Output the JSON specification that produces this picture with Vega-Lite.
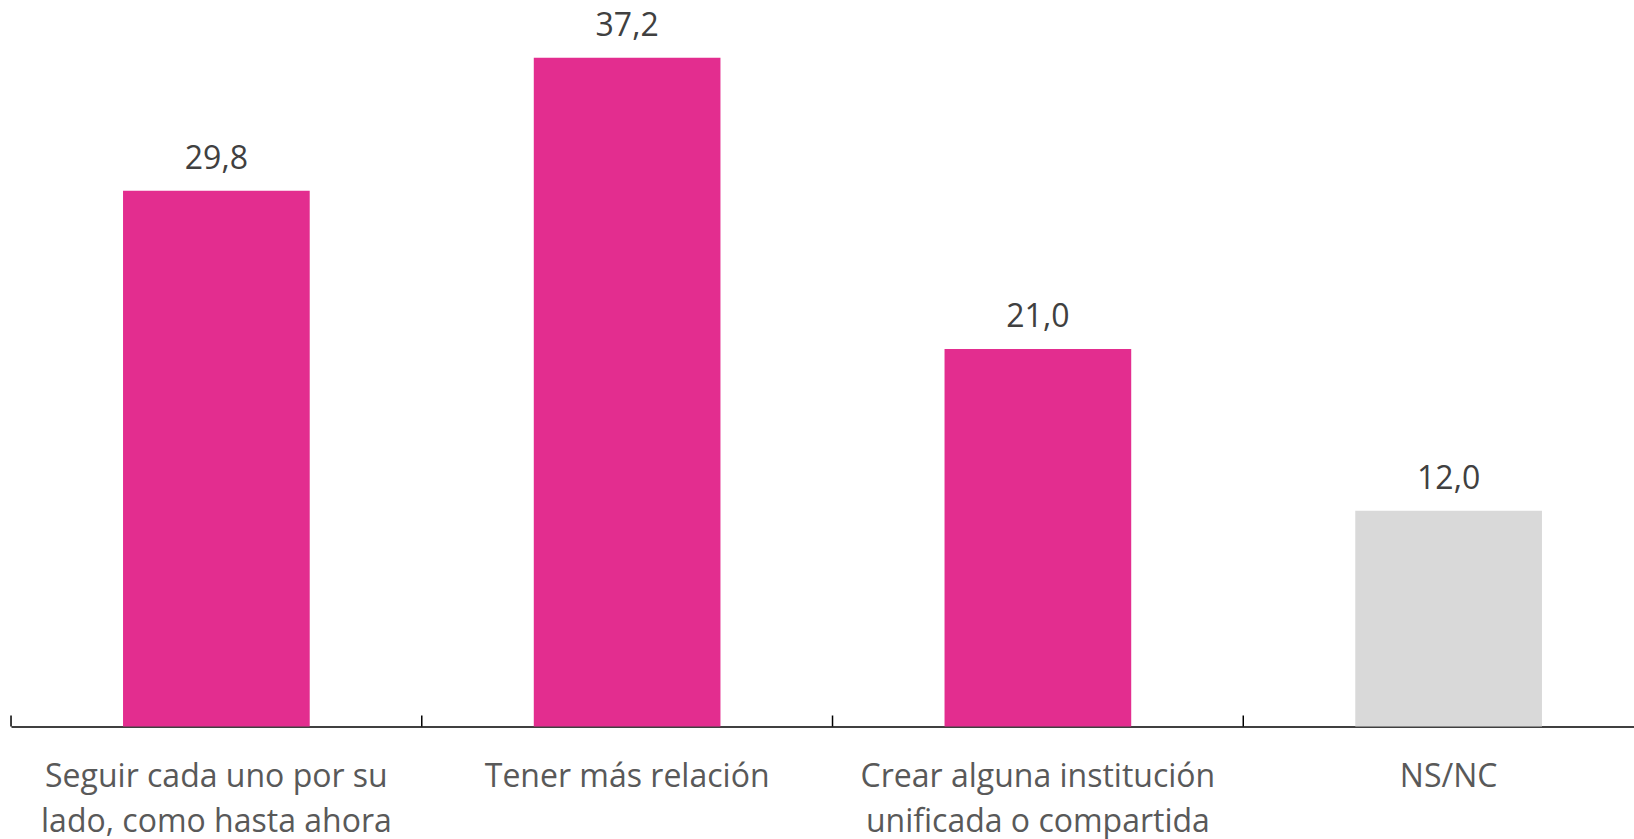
{
  "$schema": "https://vega.github.io/schema/vega-lite/v6.json",
  "autosize": {"type": "none"},
  "width": 1623,
  "height": 719,
  "padding": {"left": 11, "top": 7.5, "right": 0, "bottom": 112.5},
  "background": "white",
  "config": {
    "view": {"stroke": null},
    "locale": {"number": {"decimal": ",", "thousands": ".", "grouping": [3], "currency": ["", " €"]}}
  },
  "data": {
    "values": [
      {"cat": "Seguir cada uno por su|lado, como hasta ahora", "value": 29.8},
      {"cat": "Tener más relación", "value": 37.2},
      {"cat": "Crear alguna institución|unificada o compartida", "value": 21.0},
      {"cat": "NS/NC", "value": 12.0}
    ]
  },
  "encoding": {
    "x": {
      "field": "cat",
      "type": "nominal",
      "sort": null,
      "scale": {"range": [0, 1643], "paddingInner": 0.5455, "paddingOuter": 0.27275},
      "axis": {
        "title": null,
        "labelAngle": 0,
        "labelExpr": "split(datum.label, '|')",
        "labelFont": "Open Sans",
        "labelFontSize": 32,
        "labelColor": "#595959",
        "labelLineHeight": 44.7,
        "labelPadding": 35,
        "labelBaseline": "top",
        "domainColor": "#000000",
        "domainWidth": 1.5,
        "ticks": false,
        "labelLimit": 0
      }
    },
    "y": {
      "field": "value",
      "type": "quantitative",
      "scale": {"domain": [0, 40], "nice": false},
      "axis": null
    }
  },
  "layer": [
    {
      "mark": {"type": "bar"},
      "encoding": {
        "color": {
          "condition": {"test": "datum.cat === 'NS/NC'", "value": "#D9D9D9"},
          "value": "#E32D8F"
        }
      }
    },
    {
      "mark": {"type": "text", "font": "Open Sans", "fontSize": 32, "color": "#404040", "baseline": "alphabetic", "dy": -21.7},
      "encoding": {
        "text": {"field": "value", "type": "quantitative", "format": ".1f"}
      }
    },
    {
      "mark": {"type": "rule", "color": "#000000", "strokeWidth": 1.5},
      "encoding": {
        "x": {"field": "cat", "type": "nominal", "sort": null, "bandPosition": -0.6},
        "y": {"datum": 0},
        "y2": {"datum": 0.612}
      }
    }
  ]
}
